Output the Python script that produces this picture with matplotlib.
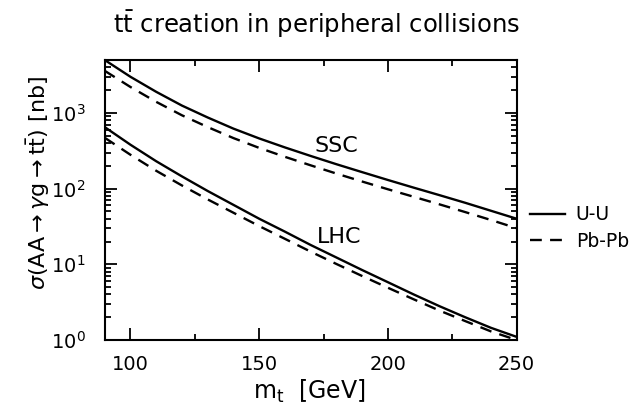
import matplotlib
matplotlib.use("Agg")
import matplotlib.pyplot as plt
from matplotlib.ticker import MultipleLocator, LogLocator, NullFormatter

plt.rcParams['font.family'] = ['DejaVu Sans']
plt.rcParams['mathtext.fontset'] = 'dejavusans'

m_t = [90, 100, 110, 120, 130, 140, 150, 160, 170, 180, 190, 200, 210, 220, 230, 240, 250]
ssc_uu = [5000, 3000, 1900, 1250, 870, 620, 460, 350, 270, 210, 165, 130, 103, 82, 65, 51, 40]
ssc_pbpb = [3600, 2200, 1400, 930, 650, 465, 345, 263, 203, 158, 124, 98, 78, 62, 49, 38.5, 30]
lhc_uu = [650, 380, 230, 145, 93, 61, 40, 27, 18, 12.3, 8.4, 5.8, 4.0, 2.8, 2.0, 1.45, 1.1]
lhc_pbpb = [470, 280, 172, 110, 72, 48, 32, 21.7, 14.7, 10.1, 7.0, 4.9, 3.45, 2.45, 1.78, 1.3, 1.0]

fig = plt.figure(figsize=(6.44, 4.11), dpi=100)
ax = fig.add_axes([0.1626, 0.1727, 0.6397, 0.6813])

lw = 1.7
dash = (0, (5, 3.5))
l1, = ax.plot(m_t, ssc_uu, color='black', lw=lw, label='U-U')
l2, = ax.plot(m_t, ssc_pbpb, color='black', lw=lw, ls=dash, label='Pb-Pb')
ax.plot(m_t, lhc_uu, color='black', lw=lw)
ax.plot(m_t, lhc_pbpb, color='black', lw=lw, ls=dash)

ax.set_yscale('log')
ax.set_xlim(90, 250)
ax.set_ylim(1, 5000)
ax.xaxis.set_major_locator(MultipleLocator(50))
ax.xaxis.set_minor_locator(MultipleLocator(25))
ax.yaxis.set_major_locator(LogLocator(base=10, numticks=10))
ax.yaxis.set_minor_locator(LogLocator(base=10, subs=range(2, 10), numticks=20))
ax.yaxis.set_minor_formatter(NullFormatter())
ax.tick_params(which='both', direction='in', top=True, right=True, labelsize=14, width=1.3)
ax.tick_params(which='major', length=8.5)
ax.tick_params(which='minor', length=4.5)
ax.tick_params(axis='x', which='major', pad=11)
ax.tick_params(axis='y', which='major', pad=14)
for s in ax.spines.values():
    s.set_linewidth(1.5)

ax.text(180, 370, 'SSC', fontsize=16, ha='center', va='center')
ax.text(181, 23, 'LHC', fontsize=16, ha='center', va='center')

fig.text(0.498 * 0.6397 + 0.1626, 0.048, r'm$_{\rm t}$  [GeV]', fontsize=17, ha='center', va='center')
fig.text(0.059, 0.555, r'$\sigma$(AA$\rightarrow\gamma$g$\rightarrow$t$\bar{\rm t}$) [nb]', fontsize=16,
         ha='center', va='center', rotation=90)
fig.text(0.492, 1 - 33 / 411, r't$\bar{\rm t}$ creation in peripheral collisions', fontsize=17.5,
         ha='center', va='baseline')

ax.legend(handles=[l1, l2], loc='center left', bbox_to_anchor=(1.0, 0.40), frameon=False,
          fontsize=13.5, handlelength=1.9, handletextpad=0.55, borderaxespad=0.3, labelspacing=0.4)

fig.savefig('out.png', dpi=100)
